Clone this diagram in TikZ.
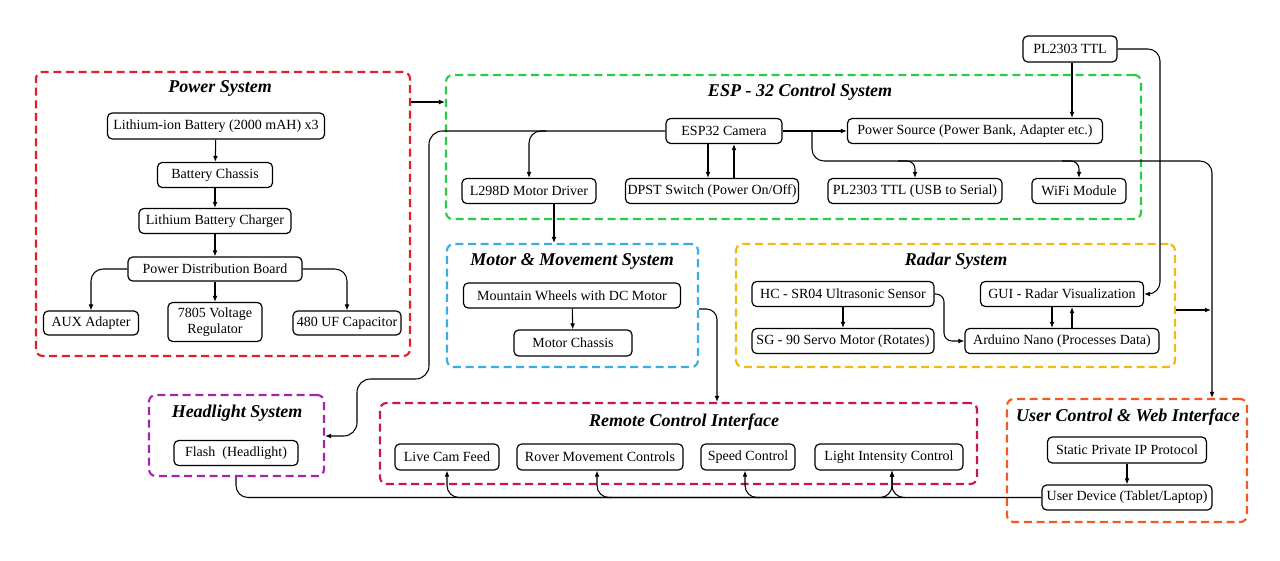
\documentclass[tikz,border=0pt]{standalone}
\usepackage{fontspec}
\setmainfont{Liberation Serif}
\usetikzlibrary{arrows.meta,calc}
\definecolor{cRed}{RGB}{228,30,38}
\definecolor{cGreen}{RGB}{40,204,72}
\definecolor{cBlue}{RGB}{56,172,232}
\definecolor{cYellow}{RGB}{240,186,20}
\definecolor{cPurple}{RGB}{164,36,176}
\definecolor{cCrimson}{RGB}{204,20,82}
\definecolor{cOrange}{RGB}{240,92,30}
\tikzset{
  box/.style={draw, rounded corners=3.5pt, line width=0.9pt, inner sep=1pt,
    font=\fontsize{10.5}{11.5}\selectfont, align=center},
  frame/.style={draw, dash pattern=on 6pt off 3.5pt, line width=1.6pt, rounded corners=5pt},
  ttl/.style={font=\fontsize{13.5}{15}\selectfont\bfseries\itshape, inner sep=0pt},
  arr/.style={-{Latex[length=4.5pt,width=3.6pt]}, line width=0.8pt},
  ln/.style={line width=0.8pt}
}
\newcommand\bx[6]{\node[box, minimum width=#4*0.75pt, minimum height=#5*0.75pt] (#1) at (#2,#3) {#6};}
\newcommand\fr[6]{\node[frame, draw=#6, minimum width=#4*0.75pt, minimum height=#5*0.75pt] (#1) at (#2,#3) {};}
\begin{document}
\begin{tikzpicture}[x=0.75pt,y=-0.75pt]
\useasboundingbox (0,0) rectangle (1280,560);
% frames
\fr{fPow}{223}{214}{374}{284}{cRed}
\fr{fEsp}{793.5}{147}{695}{144}{cGreen}
\fr{fMot}{572.5}{305.5}{251}{123}{cBlue}
\fr{fRad}{955.5}{305.5}{439}{123}{cYellow}
\fr{fHead}{236.5}{435.5}{175}{81}{cPurple}
\fr{fRem}{678.5}{443.5}{597}{81}{cCrimson}
\fr{fUser}{1127}{460.5}{240}{123}{cOrange}
% titles
\node[ttl] (tPow) at (220,88) {Power System};
\node[ttl] (tEsp) at (800,92) {ESP - 32 Control System};
\node[ttl] (tMot) at (572,261) {Motor \& Movement System};
\node[ttl] (tRad) at (956,261) {Radar System};
\node[ttl] (tHead) at (237,413) {Headlight System};
\node[ttl] (tRem) at (684,422) {Remote Control Interface};
\node[ttl] (tUser) at (1128,417) {User Control \& Web Interface};
% power boxes
\bx{b1}{216}{126}{217}{26}{Lithium-ion Battery (2000 mAH) x3}
\bx{b2}{215}{175}{115}{25}{Battery Chassis}
\bx{b3}{215}{221}{152}{25}{Lithium Battery Charger}
\bx{b4}{215}{269}{174}{24}{Power Distribution Board}
\bx{b5}{91}{323}{95}{24}{AUX Adapter}
\bx{b6}{215}{322}{94}{39}{7805 Voltage\\Regulator}
\bx{b7}{347}{323}{108}{24}{480 UF Capacitor}
% esp boxes
\bx{cam}{724}{131}{116}{25}{ESP32 Camera}
\bx{l298}{529}{191}{134}{25}{L298D Motor Driver}
\bx{dpst}{712}{191}{173}{25}{DPST Switch (Power On/Off)}
\bx{psrc}{975}{131}{255}{25}{Power Source (Power Bank, Adapter etc.)}
\bx{plusb}{915}{191}{174}{25}{PL2303 TTL (USB to Serial)}
\bx{wifi}{1079}{191}{94}{25}{WiFi Module}
\bx{pltop}{1070}{49}{94}{26}{PL2303 TTL}
% motor boxes
\bx{mw}{572}{295.5}{217}{25}{Mountain Wheels with DC Motor}
\bx{mc}{573}{343}{118}{26}{Motor Chassis}
% radar boxes
\bx{hc}{843}{294}{182}{25}{HC - SR04 Ultrasonic Sensor}
\bx{sg}{843}{341}{182}{25}{SG - 90 Servo Motor (Rotates)}
\bx{gui}{1062}{294}{163}{25}{GUI - Radar Visualization}
\bx{ard}{1062}{341}{194}{25}{Arduino Nano (Processes Data)}
% headlight
\bx{flash}{236}{453}{124}{25}{Flash\ \ (Headlight)}
% remote
\bx{live}{447}{457}{104}{26}{Live Cam Feed}
\bx{rover}{600}{457}{166}{26}{Rover Movement Controls}
\bx{speed}{748}{457}{94}{26}{Speed Control}
\bx{light}{889}{457}{148}{26}{Light Intensity Control}
% user
\bx{sip}{1127}{450}{159}{26}{Static Private IP Protocol}
\bx{udev}{1127}{497.5}{170}{25}{User Device (Tablet/Laptop)}
% ---- connectors: power
\draw[arr] (b1) -- (b2);
\draw[arr] (b2) -- (b3);
\draw[arr] (b3) -- (b4);
\draw[arr] (b4) -- (b6);
\draw[arr, rounded corners=9pt] (b4.west) -| (b5.north);
\draw[arr, rounded corners=9pt] (b4.east) -| (b7.north);
\draw[arr] (fPow.east |- 0,102) -- (fEsp.west |- 0,102);
% esp
\draw[arr] (pltop.south -| 1072,0) -- (psrc.north -| 1072,0);
\draw[arr, rounded corners=9pt] (pltop.east) -| (1160,294) -- (gui.east);
\draw[arr] (cam.east) -- (psrc.west);
\draw[arr, rounded corners=9pt] (cam.east -| 812,0) |- (1212,161) -- (fUser.north -| 1212,0);
\draw[arr, rounded corners=6pt] (898,161) -| (plusb.north);
\draw[arr, rounded corners=6pt] (1062,161) -| (wifi.north);
\draw[arr, rounded corners=10pt] (cam.west) -- (429,131) -- (429,379) -- (357,379) -- (357,436) -- (fHead.east |- 0,436);
\draw[arr, rounded corners=9pt] (546,131) -| (l298.north);
\draw[arr] (cam.south -| 708,0) -- (dpst.north -| 708,0);
\draw[arr] (dpst.north -| 734,0) -- (cam.south -| 734,0);
\draw[arr] (l298.south -| 554,0) -- (fMot.north -| 554,0);
% motor
\draw[arr] (mw) -- (mc);
\draw[arr, rounded corners=8pt] (fMot.east |- 0,309) -| (fRem.north -| 717,0);
% radar
\draw[arr] (hc) -- (sg);
\draw[arr, rounded corners=6pt] (hc.east) -- (944,294) |- (ard.west);
\draw[arr] (gui.south -| 1052,0) -- (ard.north -| 1052,0);
\draw[arr] (ard.north -| 1072,0) -- (gui.south -| 1072,0);
\draw[arr] (fRad.east |- 0,310) -- (1211,310);
% user
\draw[arr] (sip) -- (udev);
% bottom bus
\draw[arr, rounded corners=9pt] (udev.west) -| (live.south);
\draw[arr, rounded corners=9pt] (612,497.5) -| (rover.south -| 597,0);
\draw[arr, rounded corners=9pt] (760,497.5) -| (speed.south -| 745,0);
\draw[arr, rounded corners=9pt] (905,497.5) -| (light.south -| 892,0);
\draw[arr, rounded corners=9pt] (fHead.south -| 236,0) |- (879,497.5) -| (light.south -| 892,0);
\end{tikzpicture}
\end{document}
